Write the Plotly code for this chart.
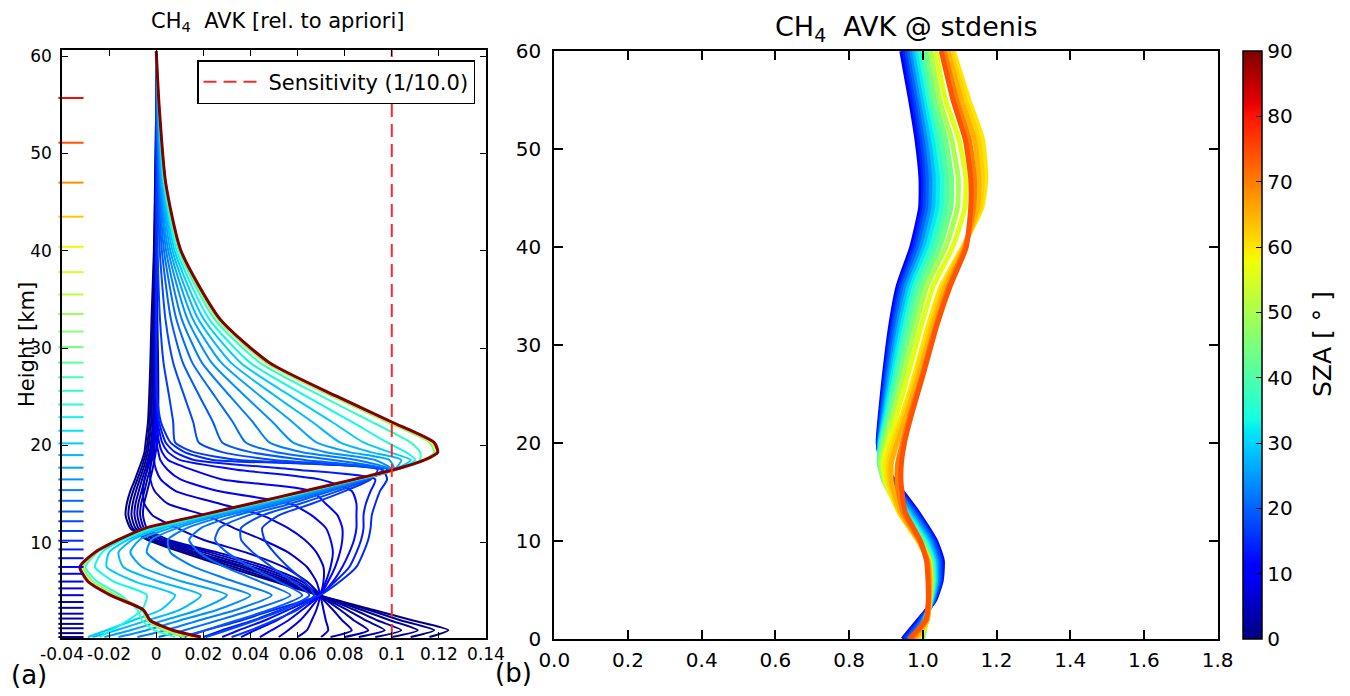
import numpy as np
import plotly.graph_objects as go

# ---------------- Panel (a): CH4 AVK rows (relative to a priori) ----------------
avk_height_km = [0.3, 1.0, 2.0, 3.1, 4.6, 6.0, 7.5, 9.0, 10.3, 11.5, 12.8, 14.0, 15.3, 16.5,
                 17.5, 18.5, 19.3, 20.3, 22.4, 25.0, 28.5, 33.0, 40.0, 47.0, 55.0, 60.5]

# retrieval layer heights (coloured ticks on the left edge)
layer_height_km = [0.3, 0.7, 1.2, 1.65, 2.2, 2.7, 3.3, 3.9, 4.6, 5.3, 6.0, 6.8, 7.5, 8.4, 9.3,
                   10.2, 11.2, 12.2, 13.2, 14.3, 15.4, 16.5, 17.7, 19.0, 20.2, 21.5, 22.9, 24.2,
                   25.6, 27.0, 28.5, 30.1, 31.7, 33.5, 35.5, 37.8, 40.4, 43.5, 47.0, 51.1, 55.7]

# layer (km) each plotted AVK row belongs to
avk_row_layer_km = [0.3, 0.7, 1.2, 1.65, 2.2, 2.7, 3.3,
                    3.9, 4.6, 5.3, 6.8, 7.5, 8.4, 9.3, 10.2,
                    11.2, 12.2, 13.2, 14.3, 15.4, 16.5, 17.7, 19.0, 20.2, 22.9, 25.6,
                    30.1, 40.4, 51.1, 62.0]

avk_r01 = [0.116, 0.124, 0.109, 0.092, 0.069, 0.050, 0.030, 0.011, -0.004, -0.011, -0.013, -0.0125, -0.011, -0.009, -0.0075, -0.006, -0.005, -0.0045, -0.0035, -0.003, -0.0025, -0.002, -0.001, -0.0005, 0.0, 0.0]
avk_r02 = [0.108, 0.118, 0.104, 0.090, 0.069, 0.052, 0.033, 0.013, -0.003, -0.010, -0.0118, -0.0113, -0.0098, -0.0080, -0.0065, -0.0052, -0.0043, -0.0037, -0.0028, -0.0024, -0.0020, -0.0015, -0.0008, -0.0004, 0.0, 0.0]
avk_r03 = [0.100, 0.111, 0.0995, 0.087, 0.069, 0.054, 0.036, 0.015, -0.001, -0.0088, -0.0105, -0.0100, -0.0086, -0.0070, -0.0056, -0.0044, -0.0036, -0.0030, -0.0021, -0.0018, -0.0015, -0.0010, -0.0005, -0.0002, 0.0, 0.0]
avk_r04 = [0.093, 0.104, 0.094, 0.084, 0.069, 0.056, 0.038, 0.017, 0.000, -0.0076, -0.0092, -0.0088, -0.0074, -0.0060, -0.0047, -0.0036, -0.0028, -0.0022, -0.0014, -0.0012, -0.0010, -0.0006, -0.0003, 0.0, 0.0, 0.0]
avk_r05 = [0.086, 0.097, 0.089, 0.081, 0.069, 0.058, 0.041, 0.020, 0.002, -0.0064, -0.0080, -0.0076, -0.0062, -0.0049, -0.0037, -0.0027, -0.0020, -0.0014, -0.0007, -0.0005, -0.0004, -0.0002, 0.0, 0.0, 0.0, 0.0]
avk_r06 = [0.080, 0.090, 0.084, 0.078, 0.069, 0.060, 0.044, 0.023, 0.003, -0.0052, -0.0068, -0.0064, -0.0050, -0.0038, -0.0027, -0.0018, -0.0011, -0.0006, 0.0, 0.0002, 0.0002, 0.0002, 0.0001, 0.0, 0.0, 0.0]
avk_r07 = [0.074, 0.083, 0.079, 0.075, 0.069, 0.062, 0.047, 0.026, 0.005, -0.0040, -0.0056, -0.0052, -0.0038, -0.0026, -0.0016, -0.0008, -0.0002, 0.0003, 0.0008, 0.0009, 0.0008, 0.0005, 0.0002, 0.0001, 0.0, 0.0]
avk_r08 = [0.070, 0.073, 0.072, 0.071, 0.0695, 0.064, 0.054, 0.038, 0.020, 0.009, -0.0015, -0.0051, -0.0056, -0.0050, -0.0039, -0.0032, -0.0022, -0.0017, -0.0010, -0.0008, -0.0008, -0.0005, -0.0002, 0.0, 0.0, 0.0]
avk_r09 = [0.060, 0.064, 0.066, 0.068, 0.0695, 0.068, 0.064, 0.056, 0.045, 0.033, 0.021, 0.0049, -0.0007, -0.0025, -0.0026, -0.0023, -0.0016, -0.0012, -0.0006, -0.0004, -0.0005, -0.0003, -0.0001, 0.0, 0.0, 0.0]
avk_r10 = [0.052, 0.056, 0.061, 0.065, 0.0695, 0.071, 0.071, 0.068, 0.063, 0.056, 0.045, 0.027, 0.0083, 0.0019, -0.0001, -0.0009, -0.0007, -0.0008, -0.0002, 0.0, -0.0002, -0.0001, 0.0, 0.0, 0.0, 0.0]
avk_r11 = [0.044, 0.049, 0.056, 0.062, 0.0695, 0.072, 0.074, 0.075, 0.074, 0.072, 0.066, 0.057, 0.0263, 0.0103, 0.0048, 0.0017, 0.0009, 0.0001, -0.0003, 0.0, 0.0, 0.0, 0.0, 0.0, 0.0, 0.0]
avk_r12 = [0.036, 0.042, 0.051, 0.059, 0.0695, 0.073, 0.076, 0.078, 0.079, 0.079, 0.077, 0.072, 0.066, 0.028, 0.0151, 0.0050, 0.0025, 0.0012, 0.0002, 0.0001, 0.0, 0.0, 0.0, 0.0, 0.0, 0.0]
avk_r13 = [0.028, 0.035, 0.046, 0.056, 0.0695, 0.075, 0.079, 0.082, 0.084, 0.085, 0.085, 0.085, 0.083, 0.0695, 0.0341, 0.0100, 0.0050, 0.0025, 0.0006, 0.0001, 0.0, 0.0, 0.0, 0.0, 0.0, 0.0]
avk_r14 = [0.020, 0.028, 0.041, 0.053, 0.0695, 0.076, 0.082, 0.085, 0.087, 0.088, 0.088, 0.089, 0.091, 0.093, 0.0597, 0.0160, 0.0080, 0.0040, 0.0012, 0.0002, 0.0, 0.0, 0.0, 0.0, 0.0, 0.0]
avk_r15 = [0.012, 0.021, 0.036, 0.050, 0.0695, 0.078, 0.085, 0.088, 0.090, 0.091, 0.0915, 0.093, 0.095, 0.098, 0.096, 0.0240, 0.0120, 0.0060, 0.0020, 0.0004, 0.0001, 0.0, 0.0, 0.0, 0.0, 0.0]
avk_r16 = [0.032, 0.040, 0.050, 0.060, 0.067, 0.063, 0.056, 0.050, 0.046, 0.045, 0.052, 0.066, 0.080, 0.091, 0.094, 0.035, 0.016, 0.008, 0.0072, 0.0055, 0.0031, 0.0016, 0.0006, 0.0003, 0.0001, 0.0]
avk_r17 = [0.021, 0.030, 0.042, 0.054, 0.065, 0.058, 0.049, 0.041, 0.036, 0.036, 0.045, 0.061, 0.077, 0.090, 0.096, 0.050, 0.028, 0.018, 0.0157, 0.012, 0.0072, 0.0039, 0.0015, 0.0007, 0.0002, 0.0]
avk_r18 = [0.010, 0.021, 0.034, 0.048, 0.062, 0.052, 0.040, 0.030, 0.025, 0.027, 0.039, 0.057, 0.074, 0.089, 0.098, 0.063, 0.040, 0.028, 0.0241, 0.0185, 0.0113, 0.0062, 0.0024, 0.0010, 0.0003, 0.0]
avk_r19 = [0.001, 0.012, 0.026, 0.041, 0.057, 0.044, 0.029, 0.018, 0.014, 0.019, 0.034, 0.053, 0.072, 0.088, 0.099, 0.075, 0.051, 0.038, 0.0325, 0.025, 0.0153, 0.0085, 0.0033, 0.0013, 0.0004, 0.0]
avk_r20 = [-0.008, 0.004, 0.018, 0.034, 0.049, 0.033, 0.016, 0.006, 0.005, 0.013, 0.030, 0.050, 0.070, 0.088, 0.100, 0.085, 0.062, 0.048, 0.041, 0.0315, 0.0194, 0.0108, 0.0042, 0.0017, 0.0005, 0.0]
avk_r21 = [-0.016, -0.004, 0.010, 0.026, 0.040, 0.022, 0.004, -0.004, -0.002, 0.009, 0.027, 0.048, 0.069, 0.087, 0.100, 0.093, 0.072, 0.058, 0.0494, 0.038, 0.0235, 0.0132, 0.0051, 0.0020, 0.0006, 0.0]
avk_r22 = [-0.022, -0.011, 0.003, 0.018, 0.030, 0.011, -0.006, -0.011, -0.007, 0.006, 0.025, 0.046, 0.067, 0.086, 0.101, 0.099, 0.082, 0.068, 0.0578, 0.0445, 0.0276, 0.0155, 0.0060, 0.0023, 0.0007, 0.0]
avk_r23 = [-0.027, -0.017, -0.004, 0.010, 0.019, 0.001, -0.014, -0.016, -0.010, 0.003, 0.023, 0.045, 0.066, 0.086, 0.101, 0.104, 0.091, 0.078, 0.0663, 0.051, 0.0317, 0.0178, 0.0069, 0.0027, 0.0008, 0.0]
avk_r24 = [-0.029, -0.021, -0.010, 0.002, 0.008, -0.009, -0.021, -0.020, -0.012, 0.001, 0.022, 0.043, 0.065, 0.085, 0.101, 0.108, 0.099, 0.088, 0.0747, 0.0575, 0.0358, 0.0201, 0.0078, 0.0030, 0.0009, 0.0]
avk_r25 = [-0.024, -0.019, -0.012, -0.006, -0.004, -0.018, -0.026, -0.023, -0.014, -0.001, 0.021, 0.042, 0.065, 0.085, 0.102, 0.110, 0.106, 0.098, 0.0831, 0.064, 0.0398, 0.0224, 0.0087, 0.0033, 0.0010, 0.0]
avk_r26 = [0.008, -0.001, -0.006, -0.008, -0.015, -0.025, -0.030, -0.025, -0.015, -0.003, 0.020, 0.041, 0.064, 0.085, 0.102, 0.112, 0.112, 0.108, 0.0916, 0.0705, 0.0439, 0.0247, 0.0096, 0.0037, 0.0011, 0.0]
avk_r27 = [0.012, 0.003, -0.004, -0.006, -0.017, -0.027, -0.031, -0.0255, -0.0155, -0.004, 0.0195, 0.0415, 0.0645, 0.0855, 0.1015, 0.1135, 0.118, 0.116, 0.098, 0.075, 0.0465, 0.026, 0.010, 0.0037, 0.0011, 0.0]
avk_r28 = [0.016, 0.005, -0.003, -0.0058, -0.0185, -0.0283, -0.0318, -0.0258, -0.0158, -0.0043, 0.019, 0.0408, 0.0637, 0.0848, 0.1015, 0.1138, 0.119, 0.117, 0.099, 0.076, 0.0473, 0.0265, 0.0103, 0.0039, 0.0012, 0.0]
avk_r29 = [0.018, 0.0065, -0.0027, -0.0056, -0.0192, -0.0288, -0.0322, -0.0259, -0.016, -0.0044, 0.0187, 0.0402, 0.0632, 0.0843, 0.1017, 0.1139, 0.1193, 0.1177, 0.0997, 0.0767, 0.0478, 0.0268, 0.0104, 0.0040, 0.0012, 0.0]
avk_r30 = [0.019, 0.007, -0.0025, -0.0055, -0.0195, -0.029, -0.0324, -0.026, -0.016, -0.0045, 0.0186, 0.040, 0.063, 0.084, 0.101, 0.114, 0.1195, 0.118, 0.100, 0.077, 0.048, 0.027, 0.0105, 0.0040, 0.0012, 0.0]

avk_rows = [avk_r01, avk_r02, avk_r03, avk_r04, avk_r05, avk_r06, avk_r07, avk_r08, avk_r09, avk_r10,
            avk_r11, avk_r12, avk_r13, avk_r14, avk_r15, avk_r16, avk_r17, avk_r18, avk_r19, avk_r20,
            avk_r21, avk_r22, avk_r23, avk_r24, avk_r25, avk_r26, avk_r27, avk_r28, avk_r29, avk_r30]

# total sensitivity divided by 10
sens_height_km = [0.3, 10.0, 20.0, 30.0, 40.0, 50.0, 60.6]
sens_value = [0.1, 0.1, 0.1, 0.1, 0.1, 0.1, 0.1]

# ---------------- Panel (b): total-column AVK for each SZA ----------------
col_height_km = [0, 2, 4, 6, 8, 10, 13, 16, 18, 20, 23, 27, 32, 36, 40, 44, 47, 51, 55, 60]
sza_deg = [11, 14, 17, 20, 24, 28, 32, 36, 40, 44, 50, 56, 60, 62, 65, 70, 74]

col_s11 = [0.946, 0.990, 1.032, 1.050, 1.053, 1.035, 0.985, 0.925, 0.890, 0.879, 0.885, 0.896, 0.913, 0.933, 0.970, 0.994, 0.995, 0.984, 0.967, 0.943]
col_s14 = [0.950, 0.993, 1.030, 1.048, 1.049, 1.032, 0.981, 0.922, 0.888, 0.880, 0.887, 0.899, 0.917, 0.938, 0.976, 1.000, 1.002, 0.991, 0.974, 0.950]
col_s17 = [0.955, 0.997, 1.029, 1.045, 1.045, 1.028, 0.977, 0.918, 0.887, 0.881, 0.889, 0.902, 0.921, 0.943, 0.982, 1.006, 1.008, 0.998, 0.980, 0.957]
col_s20 = [0.960, 1.000, 1.027, 1.042, 1.041, 1.024, 0.973, 0.914, 0.886, 0.882, 0.891, 0.905, 0.926, 0.948, 0.988, 1.013, 1.015, 1.005, 0.987, 0.963]
col_s24 = [0.970, 1.003, 1.025, 1.038, 1.037, 1.019, 0.968, 0.910, 0.885, 0.883, 0.894, 0.909, 0.932, 0.955, 0.996, 1.021, 1.023, 1.012, 0.994, 0.970]
col_s28 = [0.980, 1.005, 1.024, 1.035, 1.033, 1.014, 0.962, 0.906, 0.884, 0.884, 0.897, 0.914, 0.938, 0.962, 1.004, 1.030, 1.032, 1.020, 1.001, 0.977]
col_s32 = [0.990, 1.007, 1.022, 1.032, 1.029, 1.009, 0.957, 0.902, 0.883, 0.885, 0.900, 0.919, 0.945, 0.970, 1.013, 1.040, 1.042, 1.029, 1.009, 0.985]
col_s36 = [0.995, 1.008, 1.021, 1.029, 1.026, 1.005, 0.952, 0.899, 0.882, 0.887, 0.904, 0.925, 0.952, 0.978, 1.023, 1.051, 1.053, 1.039, 1.017, 0.993]
col_s40 = [0.998, 1.009, 1.020, 1.027, 1.023, 1.001, 0.947, 0.897, 0.882, 0.889, 0.908, 0.931, 0.960, 0.987, 1.034, 1.063, 1.065, 1.050, 1.025, 1.001]
col_s44 = [1.000, 1.010, 1.019, 1.025, 1.020, 0.997, 0.943, 0.896, 0.883, 0.892, 0.913, 0.938, 0.969, 0.997, 1.046, 1.076, 1.078, 1.062, 1.034, 1.010]
col_s50 = [0.998, 1.010, 1.018, 1.023, 1.018, 0.993, 0.939, 0.897, 0.886, 0.897, 0.920, 0.947, 0.981, 1.011, 1.062, 1.094, 1.096, 1.078, 1.046, 1.021]
col_s56 = [0.990, 1.011, 1.018, 1.021, 1.016, 0.990, 0.936, 0.900, 0.892, 0.905, 0.930, 0.960, 0.996, 1.028, 1.081, 1.114, 1.117, 1.098, 1.062, 1.035]
col_s60 = [0.985, 1.012, 1.018, 1.020, 1.015, 0.988, 0.935, 0.905, 0.900, 0.915, 0.945, 0.978, 1.015, 1.050, 1.108, 1.160, 1.171, 1.162, 1.125, 1.083]
col_s62 = [0.982, 1.012, 1.018, 1.020, 1.015, 0.989, 0.937, 0.910, 0.907, 0.922, 0.951, 0.984, 1.022, 1.056, 1.110, 1.154, 1.162, 1.151, 1.115, 1.076]
col_s65 = [0.978, 1.012, 1.017, 1.019, 1.014, 0.990, 0.940, 0.915, 0.915, 0.930, 0.957, 0.990, 1.028, 1.062, 1.112, 1.148, 1.152, 1.140, 1.105, 1.068]
col_s70 = [0.970, 1.010, 1.016, 1.016, 1.012, 0.992, 0.946, 0.930, 0.932, 0.945, 0.966, 0.998, 1.035, 1.070, 1.115, 1.138, 1.140, 1.126, 1.092, 1.058]
col_s74 = [0.963, 1.008, 1.015, 1.014, 1.010, 0.994, 0.952, 0.941, 0.942, 0.950, 0.970, 1.001, 1.038, 1.074, 1.118, 1.130, 1.130, 1.115, 1.082, 1.050]

col_rows = [col_s11, col_s14, col_s17, col_s20, col_s24, col_s28, col_s32, col_s36,
            col_s40, col_s44, col_s50, col_s56, col_s60, col_s62, col_s65, col_s70, col_s74]

for r in avk_rows:
    assert len(r) == len(avk_height_km)
for r in col_rows:
    assert len(r) == len(col_height_km)
assert len(avk_rows) == len(avk_row_layer_km)
assert len(col_rows) == len(sza_deg)


# ---------------- styling helpers ----------------
def jet(v):
    v = min(max(float(v), 0.0), 1.0)
    r = np.interp(v, [0, 0.35, 0.66, 0.89, 1], [0, 0, 1, 1, 0.5])
    g = np.interp(v, [0, 0.125, 0.375, 0.64, 0.91, 1], [0, 0, 1, 1, 0, 0])
    b = np.interp(v, [0, 0.11, 0.34, 0.65, 1], [0.5, 1, 1, 0, 0])
    return "rgb(%d,%d,%d)" % (round(r * 255), round(g * 255), round(b * 255))


jet_stops = [0, 0.11, 0.125, 0.34, 0.35, 0.375, 0.64, 0.65, 0.66, 0.89, 0.91, 1.0]
jet_scale = [[s, jet(s)] for s in jet_stops]
LAYER_NORM = 62.0   # colour normalisation of layer heights

# the page body has an 8 px margin, so the figure is drawn 8 px in from the window corner
OFF = 8
W, H = 1350 - OFF, 696 - OFF
FONT = "DejaVu Sans"


def px_x(p):
    return (p - OFF) / W


def px_y(p):
    return 1 - (p - OFF) / H


fig = go.Figure()

# panel (a): AVK rows
top_layer = max(avk_row_layer_km)
for layer, row in zip(avk_row_layer_km, avk_rows):
    is_top = layer == top_layer
    fig.add_trace(go.Scatter(
        x=row, y=avk_height_km, mode="lines",
        line=dict(color=jet(layer / LAYER_NORM), width=3.0 if is_top else 2.0,
                  shape="spline", smoothing=0.6),
        showlegend=False, hoverinfo="skip", xaxis="x", yaxis="y"))

# coloured layer ticks on the left edge
fig.add_trace(go.Scatter(
    x=[-0.0362] * len(layer_height_km), y=layer_height_km, mode="markers",
    marker=dict(symbol="line-ew", size=18,
                line=dict(width=2, color=[jet(h / LAYER_NORM) for h in layer_height_km])),
    showlegend=False, hoverinfo="skip", xaxis="x", yaxis="y", cliponaxis=False))

# sensitivity
fig.add_trace(go.Scatter(
    x=sens_value, y=sens_height_km, mode="lines", name="Sensitivity (1/10.0)",
    line=dict(color="rgb(255,40,40)", width=2, dash="13px,7px"),
    showlegend=True, xaxis="x", yaxis="y"))

# panel (b): column AVK per SZA
for sza, row in zip(sza_deg, col_rows):
    fig.add_trace(go.Scatter(
        x=row, y=col_height_km, mode="lines",
        line=dict(color=jet(sza / 90.0), width=5, shape="spline", smoothing=0.5),
        showlegend=False, hoverinfo="skip", xaxis="x2", yaxis="y2"))

# colour bar carrier
cbar = dict(x=px_x(1243), xanchor="left", y=px_y(345), yanchor="middle",
            len=(639 - 51) / H, lenmode="fraction",
            thickness=19, thicknessmode="pixels",
            outlinewidth=1.5, outlinecolor="black",
            xpad=0, ypad=0,
            tickvals=[0, 10, 20, 30, 40, 50, 60, 70, 80, 90],
            ticks="inside", ticklen=6, tickcolor="black", tickwidth=1.2,
            tickfont=dict(size=20, family=FONT, color="black"))
fig.add_trace(go.Scatter(
    x=[None, None], y=[None, None], mode="markers", xaxis="x2", yaxis="y2",
    showlegend=False, hoverinfo="skip",
    marker=dict(color=[0, 90], cmin=0, cmax=90, colorscale=jet_scale, showscale=True,
                colorbar=cbar)))

axis_common = dict(showgrid=False, zeroline=False, showline=True, linecolor="black",
                   mirror="allticks", ticks="inside", tickcolor="black", tickangle=0,
                   automargin=False)

fig.update_layout(
    width=W, height=H, margin=dict(l=0, r=0, t=0, b=0, autoexpand=False),
    plot_bgcolor="white", paper_bgcolor="white",
    font=dict(family=FONT, color="black"),
    xaxis=dict(domain=[px_x(62), px_x(486)], range=[-0.04, 0.14], anchor="y",
               tickvals=[-0.04, -0.02, 0, 0.02, 0.04, 0.06, 0.08, 0.1, 0.12, 0.14],
               ticktext=["-0.04", "-0.02", "0", "0.02", "0.04", "0.06", "0.08", "0.1", "0.12", "0.14"],
               tickfont=dict(size=17), ticklen=6, tickwidth=1.2, linewidth=1.5, **axis_common),
    yaxis=dict(domain=[px_y(638), px_y(50)], range=[0.2, 60.63], anchor="x",
               tickvals=[10, 20, 30, 40, 50, 60], tickfont=dict(size=17),
               ticklen=6, tickwidth=1.2, linewidth=1.5, ticklabelstandoff=5, **axis_common),
    xaxis2=dict(domain=[px_x(554.3), px_x(1217.6)], range=[0, 1.8], anchor="y2",
                tickvals=[0, 0.2, 0.4, 0.6, 0.8, 1.0, 1.2, 1.4, 1.6, 1.8],
                ticktext=["0.0", "0.2", "0.4", "0.6", "0.8", "1.0", "1.2", "1.4", "1.6", "1.8"],
                tickfont=dict(size=20), ticklen=9, tickwidth=1.5, linewidth=2,
                ticklabelstandoff=2, **axis_common),
    yaxis2=dict(domain=[px_y(639.3), px_y(51)], range=[0, 60], anchor="x2",
                tickvals=[0, 10, 20, 30, 40, 50, 60], tickfont=dict(size=20),
                ticklen=9, tickwidth=1.5, linewidth=2, ticklabelstandoff=7, **axis_common),
    legend=dict(x=px_x(475), xanchor="right", y=px_y(60), yanchor="top",
                bgcolor="white", bordercolor="black", borderwidth=1.5,
                font=dict(size=21, family=FONT), itemwidth=60),
    annotations=[
        dict(text="CH<sub>4</sub>  AVK [rel. to apriori]", x=px_x(277), y=px_y(22),
             xref="paper", yref="paper", showarrow=False, font=dict(size=21),
             xanchor="center", yanchor="middle"),
        dict(text="CH<sub>4</sub>  AVK @ stdenis", x=px_x(906), y=px_y(28),
             xref="paper", yref="paper", showarrow=False, font=dict(size=27),
             xanchor="center", yanchor="middle"),
        dict(text="Height [km]", x=px_x(27), y=px_y(345), xref="paper", yref="paper",
             showarrow=False, textangle=-90, font=dict(size=21),
             xanchor="center", yanchor="middle"),
        dict(text="SZA [ ° ]", x=px_x(1322), y=px_y(344), xref="paper", yref="paper",
             showarrow=False, textangle=-90, font=dict(size=25),
             xanchor="center", yanchor="middle"),
        dict(text="(a)", x=px_x(9), y=px_y(675), xref="paper", yref="paper",
             showarrow=False, font=dict(size=26), xanchor="left", yanchor="middle"),
        dict(text="(b)", x=px_x(514), y=px_y(673), xref="paper", yref="paper",
             showarrow=False, font=dict(size=26), xanchor="center", yanchor="middle"),
    ],
)

fig.write_html("out.html")
